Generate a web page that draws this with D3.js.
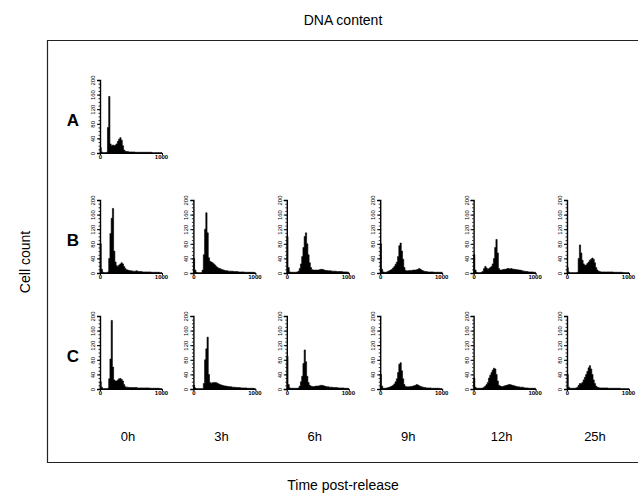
<!DOCTYPE html>
<html><head><meta charset="utf-8">
<script src="https://cdn.jsdelivr.net/npm/d3@7"></script>
<style>body{margin:0;background:#fff;} text{font-family:"Liberation Sans",Arial,sans-serif;}</style>
</head><body>
<svg id="c" width="638" height="496"></svg>
<script>
// ---- data ----
const times = ["0h","3h","6h","9h","12h","25h"];
const rows = ["A","B","C"];
const yTicks = [0,40,80,120,160,200];
const xTicks = [0,1000];
const binWidth = 20; // DNA channel units per bin (50 bins over 0-1000)

const A_0h = [15,3,1,1,1,2,70,155,25,20,22,20,22,25,32,38,42,35,20,8,5,4,4,3,3,3,3,3,2,2,2,2,2,2,2,2,2,2,2,2,2,2,1,1,1,1,1,1,1,1];

const B_0h = [80,10,2,1,1,1,3,40,108,150,177,60,30,20,18,22,25,28,25,18,12,9,8,7,6,6,5,5,5,6,5,4,4,4,3,3,3,3,3,3,3,2,2,2,2,2,2,2,1,1];
const B_3h = [40,8,2,1,1,1,1,8,50,120,165,110,42,32,30,28,25,22,18,15,13,12,10,9,8,7,6,6,5,5,5,5,4,4,4,4,3,3,3,3,3,2,2,2,2,2,2,2,2,1];
const B_6h = [100,15,3,2,2,2,2,2,3,5,12,25,45,70,100,110,80,50,28,15,9,8,8,8,8,8,9,10,10,9,8,7,7,6,6,6,5,5,5,5,4,4,4,4,4,3,3,3,3,2];
const B_9h = [80,10,3,2,2,3,5,6,8,10,14,18,24,30,45,75,82,60,38,15,7,6,6,7,7,7,8,8,8,9,10,12,10,8,6,5,4,4,3,3,3,3,3,2,2,2,2,2,2,2];
const B_12h = [50,8,2,1,1,1,2,5,12,18,14,10,12,15,18,25,40,70,92,55,12,8,8,9,10,10,11,12,12,11,12,11,10,10,9,9,8,8,7,6,5,5,4,4,3,3,3,3,2,2];
const B_25h = [15,3,1,1,1,1,1,1,2,40,77,55,35,25,21,22,26,30,35,38,41,38,28,15,8,5,4,3,3,3,3,3,3,3,3,3,3,2,2,2,2,2,2,2,2,1,1,1,1,1];

const C_0h = [20,5,1,1,1,1,2,28,82,188,60,25,22,22,25,28,29,26,22,12,6,5,5,4,4,4,4,4,4,4,3,3,3,3,3,3,3,3,3,3,2,2,2,2,2,2,2,2,1,1];
const C_3h = [10,3,1,1,1,1,1,1,15,80,110,142,40,18,16,17,18,18,17,16,14,12,11,10,9,8,8,7,7,6,6,5,5,5,4,4,4,4,3,3,3,3,3,2,2,2,2,2,2,1];
const C_6h = [90,12,3,2,2,2,2,2,2,3,8,20,35,70,107,75,35,18,10,8,7,7,7,8,8,8,9,10,10,9,8,7,6,6,5,5,5,4,4,4,4,3,3,3,3,3,2,2,2,2];
const C_9h = [40,8,2,2,2,3,4,5,6,8,10,14,20,28,45,68,72,50,28,12,7,6,6,6,7,7,8,9,10,12,11,9,7,6,5,4,4,3,3,3,3,2,2,2,2,2,2,2,1,1];
const C_12h = [30,5,2,2,2,2,2,3,5,8,12,18,30,38,45,52,57,55,40,22,10,8,7,7,8,9,10,11,12,12,11,10,9,8,7,6,6,5,5,5,4,3,3,3,2,2,2,2,2,2];
const C_25h = [40,5,2,2,2,2,2,3,5,10,15,15,18,25,32,40,48,58,64,55,40,25,15,8,5,4,3,3,3,3,3,3,3,2,2,2,2,2,2,2,2,2,2,1,1,1,1,1,1,1];

const panels = [
  {row:"A", time:"0h", counts:A_0h},
  {row:"B", time:"0h", counts:B_0h},{row:"B", time:"3h", counts:B_3h},{row:"B", time:"6h", counts:B_6h},
  {row:"B", time:"9h", counts:B_9h},{row:"B", time:"12h", counts:B_12h},{row:"B", time:"25h", counts:B_25h},
  {row:"C", time:"0h", counts:C_0h},{row:"C", time:"3h", counts:C_3h},{row:"C", time:"6h", counts:C_6h},
  {row:"C", time:"9h", counts:C_9h},{row:"C", time:"12h", counts:C_12h},{row:"C", time:"25h", counts:C_25h}
];

// ---- layout ----
const svg = d3.select("#c");
const colX = d3.scalePoint().domain(times).range([100, 567]);
const rowBase = d3.scaleOrdinal().domain(rows).range([153, 273, 389]);
const PW = 62, PH = 73;

// frame
svg.append("path").attr("d","M638,40.5H47.5V462.5H638").attr("fill","none").attr("stroke","#222").attr("stroke-width",1.2);

svg.append("text").attr("x",343).attr("y",25).attr("text-anchor","middle").attr("font-size",14).text("DNA content");
svg.append("text").attr("transform","translate(30,262) rotate(-90)").attr("text-anchor","middle").attr("font-size",14).text("Cell count");
svg.append("text").attr("x",343).attr("y",490).attr("text-anchor","middle").attr("font-size",14).text("Time post-release");

// row letters
svg.selectAll("text.rowlab").data(rows).join("text").attr("class","rowlab")
  .attr("x",73).attr("y",d=>rowBase(d)-27).attr("text-anchor","middle")
  .attr("font-size",17).attr("font-weight","bold").text(d=>d);

// time labels
svg.selectAll("text.tlab").data(times).join("text").attr("class","tlab")
  .attr("x",d=>colX(d)+28).attr("y",441).attr("text-anchor","middle").attr("font-size",13).text(d=>d);

const x = d3.scaleLinear().domain([0,1000]).range([0,PW]);
const y = d3.scaleLinear().domain([0,200]).range([PH,0]);

panels.forEach(p=>{
  const g = svg.append("g").attr("transform",`translate(${colX(p.time)},${rowBase(p.row)-PH})`);
  const pts = p.counts.map((c,i)=>({ch:i*binWidth, c}));
  pts.push({ch:1000, c:p.counts[p.counts.length-1]});
  const area = d3.area().x(d=>x(d.ch)).y0(y(0)).y1(d=>y(Math.min(d.c,200))).curve(d3.curveStepAfter);
  g.append("path").datum(pts).attr("d",area).attr("fill","#000")
    .attr("stroke","#000").attr("stroke-width",0.6).attr("stroke-linejoin","round");

  // minor ticks
  g.append("g").call(d3.axisLeft(y).ticks(20).tickSize(1.5).tickFormat(""))
    .call(a=>a.select(".domain").remove()).selectAll("line").attr("stroke-width",0.8);
  // major y axis
  const ya = g.append("g").call(d3.axisLeft(y).tickValues(yTicks).tickSizeOuter(0).tickSize(3));
  ya.select(".domain").attr("stroke-width",1.4);
  ya.selectAll("text").attr("font-size",6).attr("font-family","Liberation Sans, Arial")
    .attr("x",null).attr("dy",null).attr("text-anchor","middle")
    .attr("transform","translate(-5,0) rotate(-90)");
  // x axis
  const xa = g.append("g").attr("transform",`translate(0,${PH})`)
    .call(d3.axisBottom(x).tickValues(xTicks).tickFormat(d3.format("d")).tickSize(2).tickSizeOuter(0));
  xa.select(".domain").attr("stroke-width",1.2);
  xa.selectAll("text").attr("font-size",6).attr("font-weight","bold").attr("dy","0.6em").attr("y",2);
  xa.selectAll("text").filter(d=>d===1000).attr("dx",-1);
});
</script>
</body></html>
